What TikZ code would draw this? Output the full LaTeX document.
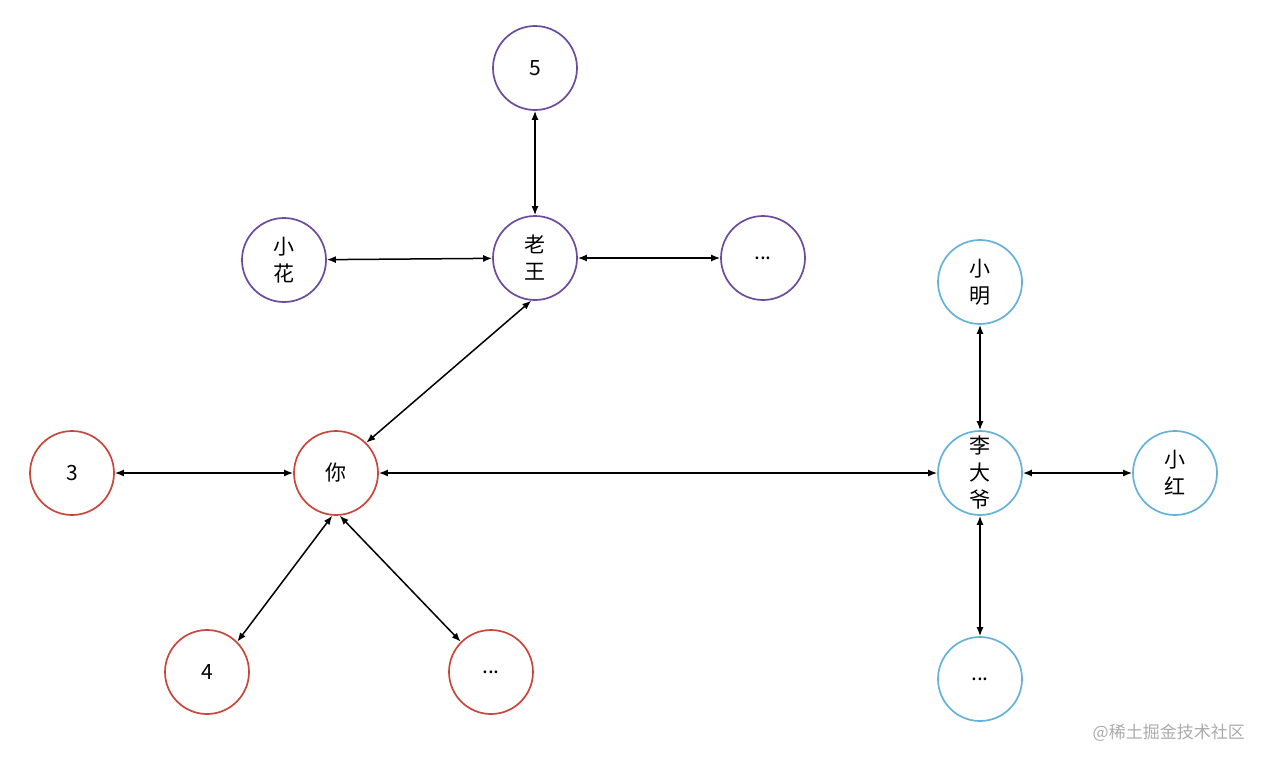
\documentclass[tikz,border=0pt]{standalone}
\usepackage{fontspec}
\setmainfont{Noto Sans CJK SC}
\usetikzlibrary{arrows.meta}
\definecolor{cpurple}{HTML}{6C4A9C}
\definecolor{cred}{HTML}{C9463D}
\definecolor{cblue}{HTML}{65B2D9}
\definecolor{wm}{HTML}{ABABAB}
\begin{document}
\begin{tikzpicture}[x=1pt,y=-1pt,
  person/.style={circle,draw,line width=1.7pt,minimum size=84pt,inner sep=0pt,align=center,font=\fontsize{21}{27}\selectfont},
  pu/.style={person,draw=cpurple},
  re/.style={person,draw=cred},
  bl/.style={person,draw=cblue},
  link/.style={{Latex[length=9pt,width=7pt]}-{Latex[length=9pt,width=7pt]},line width=1.5pt,black}]
\useasboundingbox[fill=white] (0,0) rectangle (1266,764);
\node[pu] (five) at (535,68) {5};
\node[pu] (lw) at (535,258) {老\\王};
\node[pu] (xh) at (284,260) {小\\花};
\node[pu] (pd) at (763,258) {...};
\node[bl] (xm) at (980,282) {小\\明};
\node[bl] (ldy) at (980,473) {李\\大\\爷};
\node[bl] (xhong) at (1175,473) {小\\红};
\node[bl] (bd) at (980,679) {...};
\node[re] (three) at (72,473) {3};
\node[re] (you) at (336,473) {你};
\node[re] (four) at (207,672) {4};
\node[re] (rd) at (491,672) {...};
\draw[link] (five) -- (lw);
\draw[link] (xh) -- (lw);
\draw[link] (lw) -- (pd);
\draw[link] (lw.-95) -- (you.45);
\draw[link] (three) -- (you);
\draw[link] (you) -- (ldy);
\draw[link] (you.-95) -- (four.45);
\draw[link] (you.-85) -- (rd.135);
\draw[link] (xm) -- (ldy);
\draw[link] (ldy) -- (xhong);
\draw[link] (ldy) -- (bd);
\node[anchor=east,text=wm,font=\fontsize{17}{19}\selectfont,inner sep=0pt] (wmk) at (1245,733) {@稀土掘金技术社区};
\end{tikzpicture}
\end{document}
